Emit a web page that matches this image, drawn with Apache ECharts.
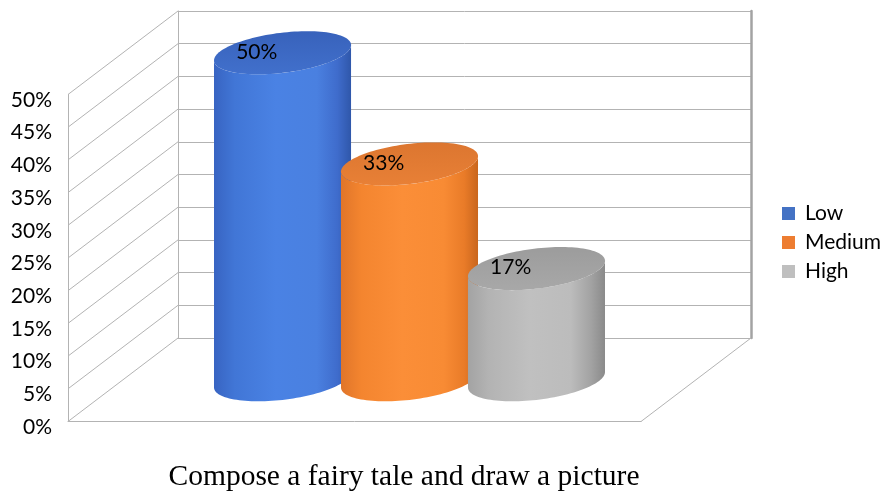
<!DOCTYPE html>
<html>
<head>
<meta charset="utf-8">
<script src="https://cdn.jsdelivr.net/npm/echarts@6/dist/echarts.min.js"></script>
<style>
html,body{margin:0;padding:0;background:#fff;}
#main{width:884px;height:494px;}
</style>
</head>
<body>
<div id="main"></div>
<script>
// ---- data ----
const categories = ['Compose a fairy tale and draw a picture'];
const seriesNames = ['Low', 'Medium', 'High'];
const lowValues = [50];
const mediumValues = [33];
const highValues = [17];
const yTickValues = [0, 5, 10, 15, 20, 25, 30, 35, 40, 45, 50];

// ---- styling / layout constants ----
const DEPTH = [-110, 83.5];           // back wall -> front edge offset (px)
const THETA = -7 * Math.PI / 180;     // tilt of cylinder ellipses
const RY = 20;                        // ellipse minor radius (px)
const GRID_LINE = '#b3b3b3';
const palettes = [
  { legend: '#4472c4',
    body: ['#3864c2', '#4176d6', '#4a82e4', '#4a80e0', '#3f6ccc', '#2f57aa'],
    cap: ['#3862bb', '#4170cc'] },
  { legend: '#ed7d31',
    body: ['#e0752a', '#f4852f', '#fb8e38', '#f88b34', '#e97b28', '#c9661d'],
    cap: ['#dc7630', '#e88036'] },
  { legend: '#bfbfbf',
    body: ['#a3a3a3', '#b3b3b3', '#c0c0c0', '#bcbcbc', '#a2a2a2', '#8a8a8a'],
    cap: ['#9c9c9c', '#a8a8a8'] }
];
const valueLists = [lowValues, mediumValues, highValues];

function grad(cols, vertical) {
  const n = cols.length;
  const stops = [0, 0.15, 0.45, 0.75, 0.9, 1];
  return new echarts.graphic.LinearGradient(0, 0, vertical ? 0 : 1, vertical ? 1 : 0,
    cols.map((c, i) => ({ offset: n === 2 ? i : stops[i], color: c })));
}

function cylinderRenderer(idx) {
  const pal = palettes[idx];
  return function (params, api) {
    const band = api.size([1, 0])[0];
    const cat = api.value(0), v = api.value(1);
    const base = api.coord([cat, 0]);
    const top = api.coord([cat, v]);
    const cx = base[0] + (idx - 1) * 0.2216 * band;
    const rx = 0.1204 * band, ry = RY;
    const c = Math.cos(THETA), s = Math.sin(THETA);
    const pt = (cy, t) => [cx + rx * Math.cos(t) * c - ry * Math.sin(t) * s,
                           cy + rx * Math.cos(t) * s + ry * Math.sin(t) * c];
    const t0 = Math.atan2(-ry * s, rx * c);
    const N = 60;
    const body = [];
    body.push(pt(top[1], t0 + Math.PI));
    for (let k = 0; k <= N; k++) body.push(pt(base[1], t0 + Math.PI - Math.PI * k / N));
    for (let k = 0; k <= N; k++) body.push(pt(top[1], t0 + Math.PI * k / N));
    const cap = [];
    for (let k = 0; k < 120; k++) cap.push(pt(top[1], 2 * Math.PI * k / 120));
    return {
      type: 'group',
      children: [
        { type: 'polygon', shape: { points: body }, style: { fill: grad(pal.body, false) } },
        { type: 'polygon', shape: { points: cap }, style: { fill: grad(pal.cap, true) } },
        { type: 'text', style: {
            text: v + '%', x: cx - 0.045 * band, y: top[1] - 1,
            align: 'center', verticalAlign: 'middle',
            fill: '#000', font: '21px Lato' } }
      ]
    };
  };
}

const chart = echarts.init(document.getElementById('main'), null, { renderer: 'canvas' });

const option = {
  animation: false,
  backgroundColor: '#fff',
  legend: {
    data: seriesNames,
    orient: 'vertical',
    left: 777, top: 198,
    icon: 'rect', itemWidth: 13, itemHeight: 13, itemGap: 8,
    textStyle: { fontFamily: 'Lato', fontSize: 21, color: '#000', lineHeight: 20, padding: [0, 0, 0, 5] }
  },
  grid: [
    { left: 178, top: 11, width: 573, height: 327 },        // back wall
    { left: 68, top: 94.5, width: 573, height: 327 },       // front edge
    { left: 123, top: 52.75, width: 573, height: 327 }      // cylinder plane
  ],
  xAxis: [
    { gridIndex: 0, type: 'value', min: 0, max: 1, show: true,
      axisLine: { show: true, onZero: false, lineStyle: { color: GRID_LINE } },
      axisTick: { show: false }, axisLabel: { show: false }, splitLine: { show: false } },
    { gridIndex: 1, type: 'value', min: 0, max: 1,
      axisLine: { show: true, onZero: false, lineStyle: { color: GRID_LINE } },
      axisTick: { show: false }, axisLabel: { show: false }, splitLine: { show: false } },
    { gridIndex: 2, type: 'category', data: categories,
      axisLine: { show: false }, axisTick: { show: false }, splitLine: { show: false },
      axisLabel: { margin: 82, fontFamily: 'Liberation Serif', fontSize: 29.5, color: '#000',
                   padding: [0, 11, 0, 0] } }
  ],
  yAxis: [
    { gridIndex: 0, type: 'value', min: 0, max: 50, interval: 5,
      axisLine: { show: true, lineStyle: { color: GRID_LINE } },
      axisTick: { show: false }, axisLabel: { show: false },
      splitLine: { show: true, lineStyle: { color: GRID_LINE, width: 1 } } },
    { gridIndex: 0, type: 'value', min: 0, max: 50, interval: 5, position: 'right',
      axisLine: { show: true, lineStyle: { color: '#a3a3a3', width: 2.5 } },
      axisTick: { show: false }, axisLabel: { show: false }, splitLine: { show: false } },
    { gridIndex: 1, type: 'value', min: 0, max: 50, interval: 5,
      axisLine: { show: true, lineStyle: { color: GRID_LINE } },
      axisTick: { show: false }, splitLine: { show: false },
      axisLabel: { formatter: '{value}%', margin: 16, fontFamily: 'Lato', fontSize: 21,
                   color: '#000', verticalAlign: 'top', lineHeight: 11 } },
    { gridIndex: 2, type: 'value', min: 0, max: 50, interval: 5, show: false }
  ],
  series: [
    { // left side wall diagonals
      type: 'custom', xAxisIndex: 0, yAxisIndex: 0, silent: true, clip: false,
      data: yTickValues.map(v => [0, v]),
      renderItem: function (params, api) {
        const p = api.coord([api.value(0), api.value(1)]);
        return { type: 'line', shape: { x1: p[0], y1: p[1], x2: p[0] + DEPTH[0], y2: p[1] + DEPTH[1] },
                 style: { stroke: GRID_LINE, lineWidth: 1 } };
      }
    },
    { // floor right edge
      type: 'custom', xAxisIndex: 0, yAxisIndex: 0, silent: true, clip: false,
      data: [[1, 0]],
      renderItem: function (params, api) {
        const p = api.coord([api.value(0), api.value(1)]);
        return { type: 'line', shape: { x1: p[0], y1: p[1], x2: p[0] + DEPTH[0], y2: p[1] + DEPTH[1] },
                 style: { stroke: GRID_LINE, lineWidth: 1 } };
      }
    }
  ].concat(seriesNames.map((name, i) => ({
    name: name, type: 'custom', xAxisIndex: 2, yAxisIndex: 3, clip: false,
    itemStyle: { color: palettes[i].legend },
    encode: { x: 0, y: 1 },
    data: valueLists[i].map((v, j) => [j, v]),
    renderItem: cylinderRenderer(i),
    z: 3 + i
  })))
};
chart.setOption(option);
</script>
</body>
</html>
